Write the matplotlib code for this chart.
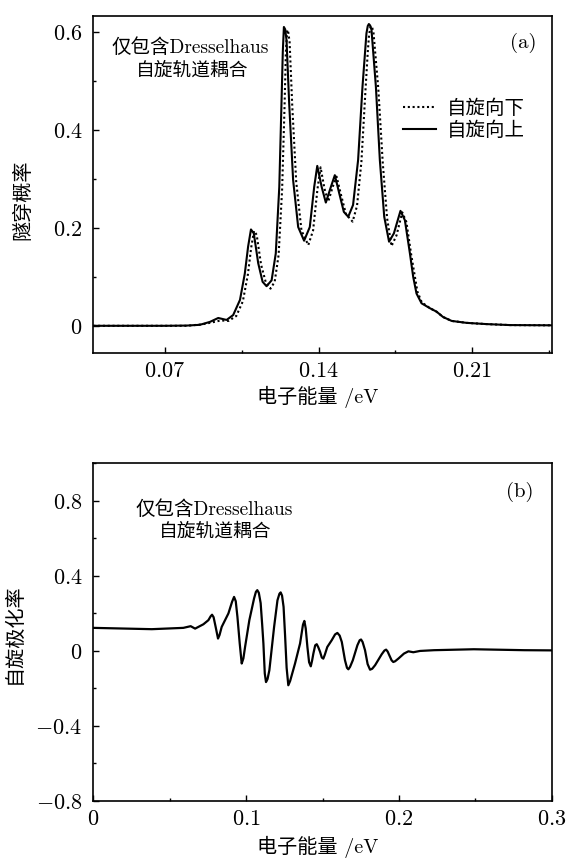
import matplotlib
matplotlib.use("Agg")
import matplotlib.pyplot as plt
from matplotlib.ticker import MultipleLocator, FuncFormatter
from matplotlib.font_manager import FontProperties

plt.rcParams['mathtext.fontset'] = 'cm'
plt.rcParams['axes.unicode_minus'] = False
FAM = ['cmr10', 'Noto Sans CJK SC', 'DejaVu Sans']

# (a) tunnelling probability vs electron energy (eV)
up_x = [0.0374, 0.0700, 0.0800, 0.0859, 0.0905, 0.0943, 0.0981, 0.1011, 0.1042, 0.1064,
        0.1079, 0.1092, 0.1105, 0.1125, 0.1145, 0.1163, 0.1186, 0.1205, 0.1221, 0.1231,
        0.1237, 0.1242, 0.1248, 0.1254, 0.1266, 0.1284, 0.1307, 0.1334, 0.1360, 0.1380,
        0.1394, 0.1414, 0.1433, 0.1456, 0.1474, 0.1494, 0.1515, 0.1535, 0.1557, 0.1580,
        0.1600, 0.1618, 0.1624, 0.1629, 0.1635, 0.1641, 0.1661, 0.1679, 0.1699, 0.1721,
        0.1743, 0.1773, 0.1793, 0.1816, 0.1831, 0.1846, 0.1869, 0.1907, 0.1937, 0.1967,
        0.2006, 0.2074, 0.2165, 0.2271, 0.2462]
up_y = [0.0, 0.0, 0.0005, 0.002, 0.008, 0.016, 0.012, 0.022, 0.053, 0.107,
        0.162, 0.197, 0.189, 0.128, 0.090, 0.081, 0.093, 0.148, 0.284, 0.455,
        0.560, 0.611, 0.606, 0.584, 0.455, 0.298, 0.202, 0.174, 0.202, 0.284,
        0.327, 0.284, 0.252, 0.284, 0.308, 0.271, 0.233, 0.223, 0.247, 0.339,
        0.489, 0.598, 0.613, 0.617, 0.614, 0.605, 0.489, 0.339, 0.223, 0.172,
        0.189, 0.235, 0.216, 0.148, 0.100, 0.066, 0.046, 0.036, 0.029, 0.018,
        0.010, 0.006, 0.0035, 0.0015, 0.001]

down_x = [0.0374, 0.0800, 0.0870, 0.0915, 0.0955, 0.0990, 0.1025, 0.1055, 0.1078, 0.1093,
          0.1106, 0.1118, 0.1138, 0.1160, 0.1181, 0.1200, 0.1218, 0.1234, 0.1245, 0.1251,
          0.1257, 0.1262, 0.1268, 0.1280, 0.1298, 0.1322, 0.1353, 0.1375, 0.1395, 0.1409,
          0.1427, 0.1444, 0.1465, 0.1482, 0.1502, 0.1525, 0.1555, 0.1575, 0.1595, 0.1614,
          0.1624, 0.1630, 0.1637, 0.1644, 0.1650, 0.1672, 0.1692, 0.1712, 0.1732, 0.1755,
          0.1781, 0.1800, 0.1822, 0.1850, 0.1870, 0.1907, 0.1937, 0.1967, 0.2006, 0.2074,
          0.2165, 0.2271, 0.2462]
down_y = [0.0, 0.0, 0.003, 0.007, 0.011, 0.010, 0.020, 0.050, 0.105, 0.160,
          0.194, 0.186, 0.125, 0.088, 0.076, 0.090, 0.145, 0.280, 0.450, 0.560,
          0.605, 0.600, 0.580, 0.450, 0.295, 0.195, 0.165, 0.195, 0.280, 0.324,
          0.280, 0.254, 0.285, 0.305, 0.268, 0.228, 0.213, 0.245, 0.335, 0.485,
          0.560, 0.595, 0.613, 0.610, 0.600, 0.485, 0.335, 0.220, 0.163, 0.185,
          0.232, 0.212, 0.145, 0.070, 0.048, 0.036, 0.029, 0.018, 0.010, 0.006,
          0.0035, 0.0015, 0.001]

# (b) spin polarisation vs electron energy (eV)
pol_x = [0.0, 0.0383, 0.0589, 0.0637, 0.0666, 0.0720, 0.0753, 0.0768, 0.0777, 0.0787,
         0.0800, 0.0816, 0.0826, 0.0840, 0.0884, 0.0908, 0.0921, 0.0932, 0.0943, 0.0958,
         0.0971, 0.0982, 0.0993, 0.1021, 0.1052, 0.1064, 0.1073, 0.1083, 0.1095, 0.1105,
         0.1113, 0.1122, 0.1130, 0.1140, 0.1152, 0.1183, 0.1205, 0.1218, 0.1226, 0.1235,
         0.1245, 0.1255, 0.1265, 0.1276, 0.1288, 0.1320, 0.1353, 0.1372, 0.1381, 0.1390,
         0.1401, 0.1412, 0.1423, 0.1432, 0.1440, 0.1452, 0.1462, 0.1472, 0.1484, 0.1495,
         0.1505, 0.1515, 0.1531, 0.1560, 0.1582, 0.1597, 0.1612, 0.1626, 0.1647, 0.1660,
         0.1669, 0.1680, 0.1698, 0.1728, 0.1743, 0.1752, 0.1762, 0.1778, 0.1795, 0.1811,
         0.1825, 0.1844, 0.1887, 0.1905, 0.1916, 0.1926, 0.1937, 0.1952, 0.1963, 0.1975,
         0.1996, 0.2033, 0.2062, 0.2094, 0.2138, 0.2230, 0.2490, 0.2820, 0.3000]
pol_y = [0.123, 0.116, 0.123, 0.132, 0.119, 0.142, 0.164, 0.185, 0.193, 0.180,
         0.130, 0.066, 0.085, 0.128, 0.200, 0.262, 0.288, 0.265, 0.182, 0.040,
         -0.067, -0.040, 0.021, 0.164, 0.280, 0.315, 0.324, 0.310, 0.255, 0.140,
         0.040, -0.120, -0.166, -0.150, -0.103, 0.128, 0.270, 0.305, 0.312, 0.295,
         0.235, 0.080, -0.090, -0.183, -0.160, -0.067, 0.040, 0.140, 0.160, 0.120,
         0.021, -0.060, -0.082, -0.050, -0.014, 0.030, 0.036, 0.020, -0.005, -0.035,
         -0.041, -0.020, 0.021, 0.057, 0.088, 0.096, 0.082, 0.048, -0.050, -0.090,
         -0.098, -0.085, -0.050, 0.030, 0.057, 0.061, 0.048, 0.004, -0.070, -0.100,
         -0.095, -0.076, -0.018, 0.002, 0.007, -0.003, -0.023, -0.050, -0.059, -0.055,
         -0.041, -0.014, -0.002, -0.007, 0.0, 0.004, 0.009, 0.004, 0.003]


def fmt(v, pos):
    if abs(v) < 1e-9:
        return r'$0$'
    s = ('%.2f' % v).rstrip('0')
    return r'$%s$' % s


def style_axis(ax):
    for sp in ax.spines.values():
        sp.set_linewidth(1.2)
    ax.tick_params(which='both', direction='in', top=False, right=False, labelsize=16)
    ax.tick_params(which='major', length=4.5, width=1.0)
    ax.tick_params(which='minor', length=2.5, width=1.0)
    ax.tick_params(axis='y', pad=8)
    ax.tick_params(axis='x', pad=6)
    ax.xaxis.set_major_formatter(FuncFormatter(fmt))
    ax.yaxis.set_major_formatter(FuncFormatter(fmt))


fig = plt.figure(figsize=(5.67, 8.59), dpi=100)
ax1 = fig.add_axes([0.1646, 0.5894, 0.8085, 0.3923])
ax2 = fig.add_axes([0.1646, 0.0675, 0.8085, 0.3931])

# panel (a)
ax1.plot(down_x, down_y, color='black', lw=1.5, ls=(0, (1, 1.3)), label='自旋向下')
ax1.plot(up_x, up_y, color='black', lw=1.5, solid_joinstyle='round', label='自旋向上')
ax1.set_xlim(0.0374, 0.2462)
ax1.set_ylim(-0.055, 0.634)
ax1.xaxis.set_major_locator(MultipleLocator(0.07))
ax1.xaxis.set_minor_locator(MultipleLocator(0.035))
ax1.yaxis.set_major_locator(MultipleLocator(0.2))
ax1.yaxis.set_minor_locator(MultipleLocator(0.1))
style_axis(ax1)
ax1.set_xlabel('电子能量 /eV', family=FAM, fontsize=14.5)
ax1.set_ylabel('隧穿概率', family=FAM, fontsize=14.5)
ax1.xaxis.set_label_coords(0.489, -0.099)
ax1.yaxis.set_label_coords(-0.134, 0.453)
ax1.text(0.211, 0.904, '仅包含Dresselhaus', transform=ax1.transAxes, family=FAM,
         fontsize=14, ha='center', va='center')
ax1.text(0.215, 0.837, '自旋轨道耦合', transform=ax1.transAxes, family=FAM,
         fontsize=13.5, ha='center', va='center')
ax1.text(0.937, 0.919, '(a)', transform=ax1.transAxes, family=FAM,
         fontsize=15, ha='center', va='center')
ax1.legend(loc='upper left', bbox_to_anchor=(0.6745, 0.751), frameon=False,
           prop=FontProperties(family=FAM, size=14), handlelength=1.7,
           handletextpad=0.6, labelspacing=0.2, borderpad=0, borderaxespad=0)

# panel (b)
ax2.plot(pol_x, pol_y, color='black', lw=1.6, solid_joinstyle='round')
ax2.set_xlim(0, 0.3)
ax2.set_ylim(-0.8, 1.0)
ax2.xaxis.set_major_locator(MultipleLocator(0.1))
ax2.xaxis.set_minor_locator(MultipleLocator(0.05))
ax2.yaxis.set_major_locator(MultipleLocator(0.4))
ax2.yaxis.set_minor_locator(MultipleLocator(0.2))
style_axis(ax2)
ax2.set_xlabel('电子能量 /eV', family=FAM, fontsize=14.5)
ax2.set_ylabel('自旋极化率', family=FAM, fontsize=14.5)
ax2.xaxis.set_label_coords(0.489, -0.104)
ax2.yaxis.set_label_coords(-0.152, 0.497)
ax2.text(0.263, 0.862, '仅包含Dresselhaus', transform=ax2.transAxes, family=FAM,
         fontsize=14, ha='center', va='center')
ax2.text(0.265, 0.797, '自旋轨道耦合', transform=ax2.transAxes, family=FAM,
         fontsize=13.5, ha='center', va='center')
ax2.text(0.930, 0.916, '(b)', transform=ax2.transAxes, family=FAM,
         fontsize=15, ha='center', va='center')

fig.savefig('out.png', dpi=100)
